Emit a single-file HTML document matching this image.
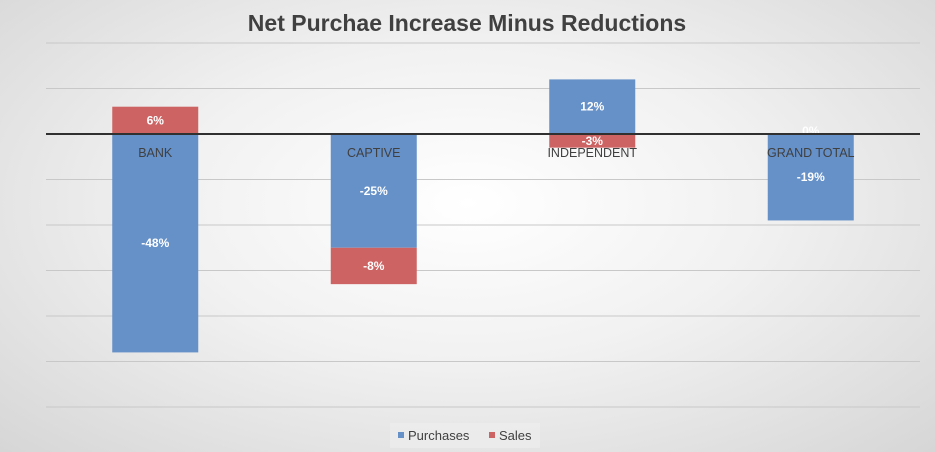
<!DOCTYPE html>
<html><head><meta charset="utf-8"><style>
html,body{margin:0;padding:0;width:935px;height:452px;overflow:hidden}
body{background:radial-gradient(ellipse at 50% 45%,#ffffff 0%,#f1f1f1 45%,#d6d6d6 100%);font-family:"Liberation Sans",sans-serif}
</style></head><body>
<svg id="chart" width="935" height="452" xmlns="http://www.w3.org/2000/svg">
<text x="467" y="31" text-anchor="middle" font-size="23" font-weight="bold" fill="#404040" font-family="Liberation Sans, sans-serif">Net Purchae Increase Minus Reductions</text>
<g id="grid"></g><g id="bars"></g><g id="labels"></g>
<g>
<rect x="390" y="423" width="150" height="25" fill="#efefef" opacity="0.6"/>
<rect x="398" y="432" width="6" height="6" fill="#6590c8"/>
<text x="408" y="440" font-size="13" fill="#404040">Purchases</text>
<rect x="489" y="432" width="6" height="6" fill="#cd6463"/>
<text x="499" y="440" font-size="13" fill="#404040">Sales</text>
</g>
</svg>
<script>
const categories=["BANK","CAPTIVE","INDEPENDENT","GRAND TOTAL"];
const purchases=[-48,-25,12,-19];
const sales=[6,-8,-3,0];
const ticks=[20,10,0,-10,-20,-30,-40,-50,-60];
const NS="http://www.w3.org/2000/svg";
const x0=46,x1=920,zeroY=134,pxPer=4.55,barW=86;
const y=v=>zeroY-v*pxPer;
const cx=i=>x0+(x1-x0)/categories.length*(i+0.5);
function mk(t,a,p){const e=document.createElementNS(NS,t);for(const k in a)e.setAttribute(k,a[k]);p.appendChild(e);return e;}
const grid=document.getElementById('grid'),bars=document.getElementById('bars'),labels=document.getElementById('labels');
ticks.forEach(t=>{if(t===0)return;const l=mk('line',{x1:x0,x2:x1,y1:y(t),y2:y(t),stroke:'#c8c8c8','stroke-width':1},grid);

});
function seg(i,start,v,color,name){
 const a=y(start),b=y(start+v);const top=Math.min(a,b),h=Math.abs(a-b);
 if(h>0){const r=mk('rect',{x:cx(i)-barW/2,y:top,width:barW,height:h,fill:color},bars);
 
 }
 const t=mk('text',{x:cx(i),y:(a+b)/2+4-(h===0?3:0),'text-anchor':'middle','font-size':12,'font-weight':'bold',fill:'#fff'},labels);
 
 
 t.textContent=v+'%';
}
categories.forEach((c,i)=>{
 const p=purchases[i],s=sales[i];
 seg(i,0,p,'#6590c8','purchases');
 const sStart=(Math.sign(s)===Math.sign(p))?p:0;
 seg(i,sStart,s,'#cd6463','sales');
 const t=mk('text',{x:cx(i),y:zeroY+23,'text-anchor':'middle','font-size':12.5,fill:'#404040'},labels);
 
 
 t.textContent=c;
});
const z=mk('line',{x1:x0,x2:x1,y1:zeroY,y2:zeroY,stroke:'#303030','stroke-width':2},labels);


labels.parentNode.appendChild(labels);
</script>
</body></html>
